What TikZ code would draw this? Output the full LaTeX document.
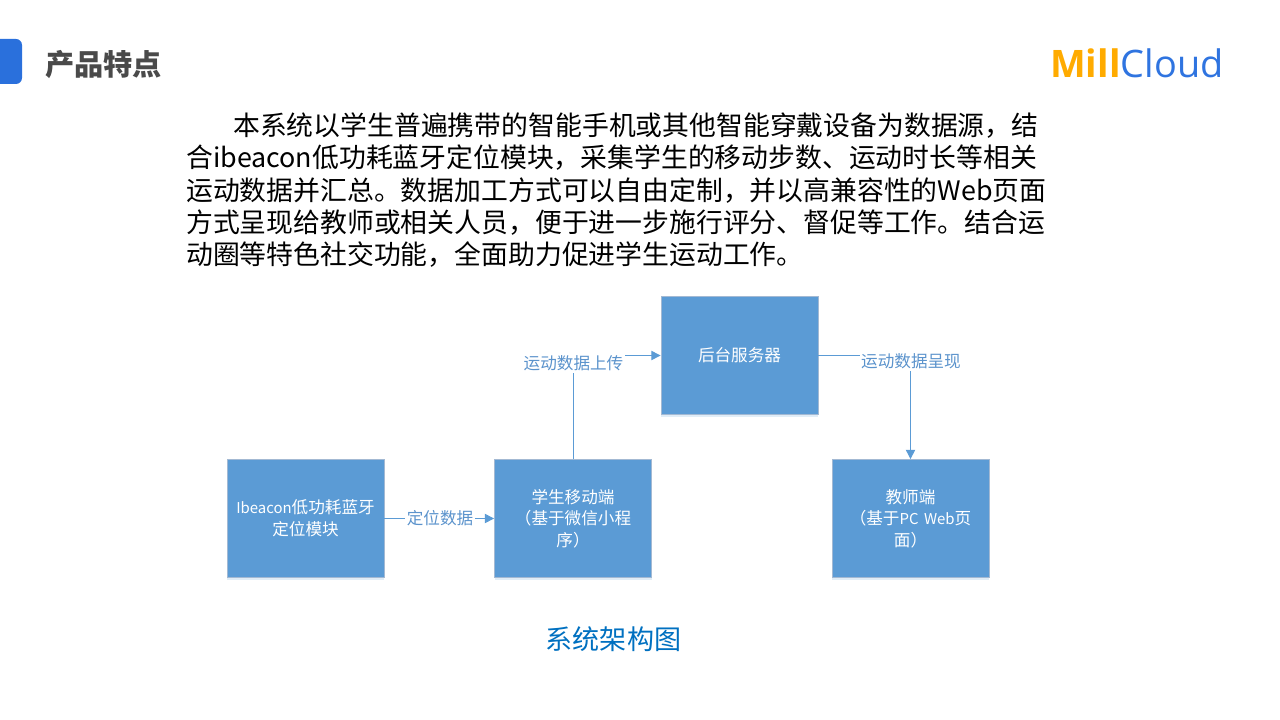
\documentclass[tikz,border=0pt]{standalone}
\usepackage{fontspec}
\setmainfont{Noto Sans CJK SC}
\newfontfamily\logofont{Open Sans}
\usetikzlibrary{arrows.meta,shadows}
\definecolor{boxblue}{HTML}{5B9BD5}
\definecolor{boxedge}{HTML}{A3B9D3}
\definecolor{labelblue}{HTML}{5B93CC}
\definecolor{captionblue}{HTML}{0070C0}
\definecolor{titlegray}{HTML}{4A4A4A}
\definecolor{logoorange}{HTML}{FFAB00}
\definecolor{logoblue}{HTML}{2F74E0}
\definecolor{tabblue}{HTML}{2A70DC}
\newcommand{\latinsmall}[1]{{\fontsize{11.2}{16.2}\selectfont #1}}
\tikzset{
  x=0.75pt,y=-0.75pt,
  archbox/.style={draw=boxedge,line width=0.6pt,fill=boxblue,minimum width=117.75pt,minimum height=88.5pt,
    inner sep=4pt,text width=108pt,align=center,text=white,font=\fontsize{12.45}{16.2}\selectfont,
    drop shadow={shadow xshift=0pt,shadow yshift=-1.5pt,opacity=0.18,fill=boxblue}},
  link/.style={draw=boxblue,line width=0.75pt,-{Triangle[length=7pt,width=7pt]}},
  linklabel/.style={fill=white,text=labelblue,inner sep=1pt,font=\fontsize{12.45}{15}\selectfont},
  bodyline/.style={anchor=west,inner sep=0pt,text=black,font=\fontsize{20.13}{24}\selectfont},
}
\begin{document}
\begin{tikzpicture}
\useasboundingbox (0,0) rectangle (1280,720);
\fill[tabblue] (0,39) [rounded corners=4.5pt] -- (22,39) -- (22,84) [sharp corners] -- (0,84) -- cycle;
\node[anchor=west,inner sep=0pt,text=titlegray,font=\fontsize{21.9}{26}\selectfont\bfseries] (title) at (45,65) {产品特点};
\node[anchor=west,inner sep=0pt,font=\logofont\fontsize{28.4}{32}\selectfont] (logo) at (1050,63) {\textcolor{logoorange}{\bfseries Mill}\textcolor{logoblue}{Cloud}};

\node[bodyline] (l1) at (233,126) {本系统以学生普遍携带的智能手机或其他智能穿戴设备为数据源，结};
\node[bodyline] (l2) at (186,158) {合ibeacon低功耗蓝牙定位模块，采集学生的移动步数、运动时长等相关};
\node[bodyline] (l3) at (186,191) {运动数据并汇总。数据加工方式可以自由定制，并以高兼容性的Web页面};
\node[bodyline] (l4) at (186,223) {方式呈现给教师或相关人员，便于进一步施行评分、督促等工作。结合运};
\node[bodyline] (l5) at (186,255) {动圈等特色社交功能，全面助力促进学生运动工作。};

\node[archbox] (beacon) at (305.5,518.5) {\latinsmall{Ibeacon}低功耗蓝牙\\定位模块};
\node[archbox] (student) at (573,518.5) {学生移动端\\（基于微信小程\\序）};
\node[archbox] (server) at (739.5,355.5) {后台服务器};
\node[archbox] (teacher) at (910.5,518.5) {教师端\\（基于\latinsmall{PC Web}页\\面）};

\draw[link] (beacon) -- (student);
\draw[link] (student.north) |- (server.west);
\draw[link] (server.east) -| (teacher.north);

\node[linklabel] (la) at (440,518.5) {定位数据};
\node[linklabel] (lb) at (573.5,363.5) {运动数据上传};
\node[linklabel] (lc) at (911,361.5) {运动数据呈现};

\node[inner sep=0pt,text=captionblue,font=\fontsize{20.3}{24}\selectfont] (caption) at (613.5,639) {系统架构图};
\end{tikzpicture}
\end{document}
